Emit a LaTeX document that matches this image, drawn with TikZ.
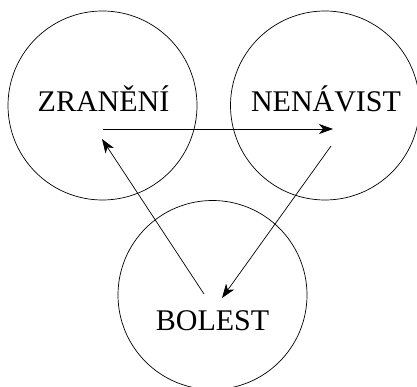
\documentclass[tikz,border=0pt]{standalone}
\usepackage{fontspec}
\setmainfont{Liberation Serif}
\usetikzlibrary{arrows.meta}
\begin{document}
\begin{tikzpicture}[x=1pt,y=-1pt,
  ring/.style={draw, line width=0.7pt, circle, minimum size=189pt, inner sep=0pt},
  word/.style={font=\fontsize{30}{32}\selectfont, anchor=base, inner sep=0pt},
  link/.style={line width=0.7pt, -{Stealth[length=14pt,width=10pt,inset=4pt]}}]
\useasboundingbox (0,0) rectangle (417,387);
\clip (0,0) rectangle (417,387);
\node[ring] (c1) at (102.5,105.5) {};
\node[ring] (c2) at (325,105.5) {};
\node[ring] (c3) at (212.5,295) {};
\node[word] (t1) at (103.5,112) {ZRANĚNÍ};
\node[word] (t2) at (326,112) {NENÁVIST};
\node[word] (t3) at (212.5,330) {BOLEST};
\coordinate (a1) at (103,129);
\coordinate (b1) at (333,129);
\coordinate (a2) at (331,146);
\coordinate (b2) at (222,298);
\coordinate (a3) at (204,294);
\coordinate (b3) at (102,139);
\draw[link] (a1) -- (b1);
\draw[link] (a2) -- (b2);
\draw[link] (a3) -- (b3);
\end{tikzpicture}
\end{document}
